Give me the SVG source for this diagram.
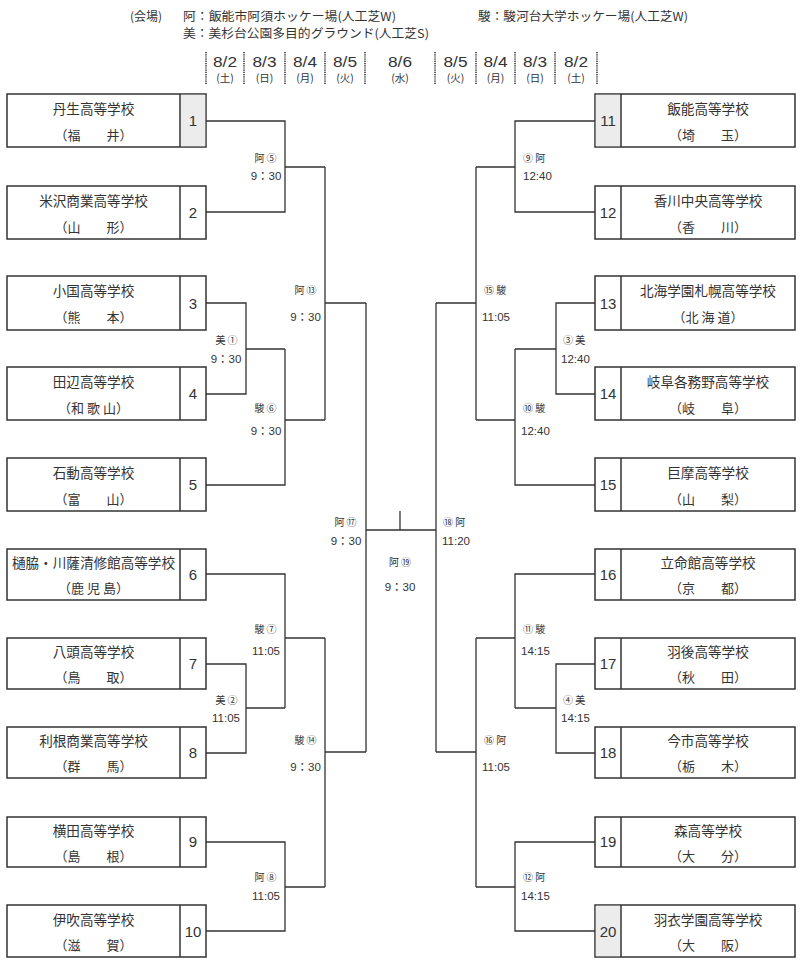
<svg xmlns="http://www.w3.org/2000/svg" width="800" height="968" viewBox="0 0 800 968">
<style>
.bg{fill:#fff}
.box{fill:#fff;stroke:#333;stroke-width:1.5}
.cell{fill:#ececec;stroke:none}
.sep{stroke:#333;stroke-width:1.5}
.ln{fill:none;stroke:#333;stroke-width:1.3}
.dot{stroke:#333;stroke-width:1.6;stroke-dasharray:1.2 1}
.nm{font-family:"Noto Sans CJK JP",sans-serif;font-size:13.6px;fill:#333;text-anchor:middle}
.pf{font-family:"Noto Sans CJK JP",sans-serif;font-size:13px;fill:#333;text-anchor:middle}
.no{font-family:"Liberation Sans",sans-serif;font-size:15px;fill:#333;text-anchor:middle}
.ml{font-family:"Noto Sans CJK JP",sans-serif;font-size:10px;fill:#333}
.tm{font-family:"Liberation Sans","Noto Sans CJK JP",sans-serif;font-size:11.5px;fill:#333}
.mid{text-anchor:middle}
.hd{font-family:"Noto Sans CJK JP",sans-serif;font-size:12px;fill:#333}
.dt{font-family:"Liberation Sans",sans-serif;font-size:14px;fill:#333;text-anchor:middle}
.dw{font-family:"Noto Sans CJK JP",sans-serif;font-size:10.5px;fill:#333;text-anchor:middle}
</style>
<rect class="bg" x="0" y="0" width="800" height="968"/>

<g id="header">
<text class="hd" x="130" y="21">(会場)</text>
<text class="hd" x="183" y="21" textLength="213" lengthAdjust="spacingAndGlyphs">阿：飯能市阿須ホッケー場(人工芝W)</text>
<text class="hd" x="478" y="21" textLength="210" lengthAdjust="spacingAndGlyphs">駿：駿河台大学ホッケー場(人工芝W)</text>
<text class="hd" x="183" y="38" textLength="246" lengthAdjust="spacingAndGlyphs">美：美杉台公園多目的グラウンド(人工芝S)</text>
</g>

<g id="dates">
<line class="dot" x1="206" y1="52" x2="206" y2="85"/>
<line class="dot" x1="244" y1="52" x2="244" y2="85"/>
<line class="dot" x1="285" y1="52" x2="285" y2="85"/>
<line class="dot" x1="325" y1="52" x2="325" y2="85"/>
<line class="dot" x1="365" y1="52" x2="365" y2="85"/>
<line class="dot" x1="435" y1="52" x2="435" y2="85"/>
<line class="dot" x1="476" y1="52" x2="476" y2="85"/>
<line class="dot" x1="515" y1="52" x2="515" y2="85"/>
<line class="dot" x1="555" y1="52" x2="555" y2="85"/>
<line class="dot" x1="597" y1="52" x2="597" y2="85"/>
<text class="dt" x="225" y="67" textLength="24" lengthAdjust="spacingAndGlyphs">8/2</text>
<text class="dt" x="264.5" y="67" textLength="24" lengthAdjust="spacingAndGlyphs">8/3</text>
<text class="dt" x="305" y="67" textLength="24" lengthAdjust="spacingAndGlyphs">8/4</text>
<text class="dt" x="345" y="67" textLength="24" lengthAdjust="spacingAndGlyphs">8/5</text>
<text class="dt" x="400" y="67" textLength="24" lengthAdjust="spacingAndGlyphs">8/6</text>
<text class="dt" x="455.5" y="67" textLength="24" lengthAdjust="spacingAndGlyphs">8/5</text>
<text class="dt" x="495.5" y="67" textLength="24" lengthAdjust="spacingAndGlyphs">8/4</text>
<text class="dt" x="535" y="67" textLength="24" lengthAdjust="spacingAndGlyphs">8/3</text>
<text class="dt" x="576" y="67" textLength="24" lengthAdjust="spacingAndGlyphs">8/2</text>
<text class="dw" x="225" y="82">(土)</text>
<text class="dw" x="264.5" y="82">(日)</text>
<text class="dw" x="305" y="82">(月)</text>
<text class="dw" x="345" y="82">(火)</text>
<text class="dw" x="400" y="82">(水)</text>
<text class="dw" x="455.5" y="82">(火)</text>
<text class="dw" x="495.5" y="82">(月)</text>
<text class="dw" x="535" y="82">(日)</text>
<text class="dw" x="576" y="82">(土)</text>
</g>

<g id="connectors">
<path class="ln" d="M206,121 H285 V212 H206 M285,167 H325"/>
<path class="ln" d="M206,303 H246 V394 H206 M246,349 H285"/>
<path class="ln" d="M206,485 H285 V349 M285,420 H325"/>
<path class="ln" d="M325,167 V420 M325,303 H366"/>
<path class="ln" d="M206,574 H285 V708 M285,638 H325"/>
<path class="ln" d="M206,664 H246 V753 H206 M246,708 H285"/>
<path class="ln" d="M206,842 H285 V931 H206 M285,887 H325"/>
<path class="ln" d="M325,638 V887 M325,752 H366"/>
<path class="ln" d="M366,303 V752 M366,530 H436 M400,511 V530"/>
<path class="ln" d="M595,121 H515 V212 H595 M515,167 H476"/>
<path class="ln" d="M595,303 H556 V394 H595 M556,349 H515"/>
<path class="ln" d="M595,485 H515 V349 M515,420 H476"/>
<path class="ln" d="M476,167 V420 M476,303 H436"/>
<path class="ln" d="M595,574 H515 V708 M515,638 H476"/>
<path class="ln" d="M595,664 H556 V753 H595 M556,708 H515"/>
<path class="ln" d="M595,842 H515 V931 H595 M515,887 H476"/>
<path class="ln" d="M476,638 V887 M476,752 H436"/>
<path class="ln" d="M436,303 V752"/>
</g>

<g id="match-labels">
<text class="ml mid" x="265.5" y="161.5">阿 ⑤</text><text class="tm mid" x="266" y="180">9：30</text>
<text class="ml mid" x="305.5" y="293.5">阿 ⑬</text><text class="tm mid" x="305.5" y="321">9：30</text>
<text class="ml mid" x="226.5" y="343.5">美 ①</text><text class="tm mid" x="226" y="363">9：30</text>
<text class="ml mid" x="265.5" y="411.5">駿 ⑥</text><text class="tm mid" x="266" y="435">9：30</text>
<text class="ml mid" x="345.5" y="525.5">阿 ⑰</text><text class="tm mid" x="346" y="545">9：30</text>
<text class="ml mid" x="265.5" y="632.5">駿 ⑦</text><text class="tm mid" x="266" y="655">11:05</text>
<text class="ml mid" x="226.5" y="703.5">美 ②</text><text class="tm mid" x="226" y="722">11:05</text>
<text class="ml mid" x="305.5" y="743.5">駿 ⑭</text><text class="tm mid" x="305.5" y="771">9：30</text>
<text class="ml mid" x="265.5" y="880.5">阿 ⑧</text><text class="tm mid" x="266" y="900">11:05</text>
<text class="ml mid" x="400" y="565.5">阿 ⑲</text><text class="tm mid" x="400" y="591">9：30</text>
<text class="ml" x="523" y="161.5">⑨ 阿</text><text class="tm" x="523" y="180">12:40</text>
<text class="ml" x="484" y="293.5">⑮ 駿</text><text class="tm" x="482" y="321">11:05</text>
<text class="ml" x="563" y="343.5">③ 美</text><text class="tm" x="561" y="363">12:40</text>
<text class="ml" x="523" y="411.5">⑩ 駿</text><text class="tm" x="521" y="435">12:40</text>
<text class="ml" x="443" y="525.5">⑱ 阿</text><text class="tm" x="442" y="545">11:20</text>
<text class="ml" x="523" y="632.5">⑪ 駿</text><text class="tm" x="521" y="655">14:15</text>
<text class="ml" x="563" y="703.5">④ 美</text><text class="tm" x="561" y="722">14:15</text>
<text class="ml" x="484" y="743.5">⑯ 阿</text><text class="tm" x="482" y="771">11:05</text>
<text class="ml" x="523" y="880.5">⑫ 阿</text><text class="tm" x="521" y="900">14:15</text>
</g>

<g id="team-1"><rect class="box" x="7" y="94" width="199" height="53"/><rect class="cell" x="180.8" y="94.8" width="24.4" height="51.4"/><line class="sep" x1="180" y1="94" x2="180" y2="147"/><text class="nm" x="93.5" y="113.5">丹生高等学校</text><text class="pf" x="93.5" y="140">（福　　井）</text><text class="no" x="193" y="126">1</text></g>
<g id="team-2"><rect class="box" x="7" y="186" width="199" height="53"/><line class="sep" x1="180" y1="186" x2="180" y2="239"/><text class="nm" x="93.5" y="205.5">米沢商業高等学校</text><text class="pf" x="93.5" y="232">（山　　形）</text><text class="no" x="193" y="218">2</text></g>
<g id="team-3"><rect class="box" x="7" y="276" width="199" height="54"/><line class="sep" x1="180" y1="276" x2="180" y2="330"/><text class="nm" x="93.5" y="295.5">小国高等学校</text><text class="pf" x="93.5" y="322">（熊　　本）</text><text class="no" x="193" y="308.5">3</text></g>
<g id="team-4"><rect class="box" x="7" y="367" width="199" height="53"/><line class="sep" x1="180" y1="367" x2="180" y2="420"/><text class="nm" x="93.5" y="386.5">田辺高等学校</text><text class="pf" x="93.5" y="413">（和 歌 山）</text><text class="no" x="193" y="399">4</text></g>
<g id="team-5"><rect class="box" x="7" y="458" width="199" height="53"/><line class="sep" x1="180" y1="458" x2="180" y2="511"/><text class="nm" x="93.5" y="477.5">石動高等学校</text><text class="pf" x="93.5" y="504">（富　　山）</text><text class="no" x="193" y="490">5</text></g>
<g id="team-6"><rect class="box" x="7" y="549" width="199" height="51"/><line class="sep" x1="180" y1="549" x2="180" y2="600"/><text class="nm" x="93.5" y="567.5">樋脇・川薩清修館高等学校</text><text class="pf" x="93.5" y="593">（鹿 児 島）</text><text class="no" x="193" y="580">6</text></g>
<g id="team-7"><rect class="box" x="7" y="638" width="199" height="51"/><line class="sep" x1="180" y1="638" x2="180" y2="689"/><text class="nm" x="93.5" y="656.5">八頭高等学校</text><text class="pf" x="93.5" y="682">（鳥　　取）</text><text class="no" x="193" y="669">7</text></g>
<g id="team-8"><rect class="box" x="7" y="727" width="199" height="51"/><line class="sep" x1="180" y1="727" x2="180" y2="778"/><text class="nm" x="93.5" y="745.5">利根商業高等学校</text><text class="pf" x="93.5" y="771">（群　　馬）</text><text class="no" x="193" y="758">8</text></g>
<g id="team-9"><rect class="box" x="7" y="817" width="199" height="50"/><line class="sep" x1="180" y1="817" x2="180" y2="867"/><text class="nm" x="93.5" y="835.5">横田高等学校</text><text class="pf" x="93.5" y="861">（島　　根）</text><text class="no" x="193" y="847">9</text></g>
<g id="team-10"><rect class="box" x="7" y="905" width="199" height="52"/><line class="sep" x1="180" y1="905" x2="180" y2="957"/><text class="nm" x="93.5" y="924.5">伊吹高等学校</text><text class="pf" x="93.5" y="950">（滋　　賀）</text><text class="no" x="193" y="936.5">10</text></g>

<g id="team-11"><rect class="box" x="595" y="94" width="200" height="53"/><rect class="cell" x="595.8" y="94.8" width="24.4" height="51.4"/><line class="sep" x1="621" y1="94" x2="621" y2="147"/><text class="nm" x="708" y="113.5">飯能高等学校</text><text class="pf" x="708" y="140">（埼　　玉）</text><text class="no" x="608" y="126">11</text></g>
<g id="team-12"><rect class="box" x="595" y="186" width="200" height="53"/><line class="sep" x1="621" y1="186" x2="621" y2="239"/><text class="nm" x="708" y="205.5">香川中央高等学校</text><text class="pf" x="708" y="232">（香　　川）</text><text class="no" x="608" y="218">12</text></g>
<g id="team-13"><rect class="box" x="595" y="276" width="200" height="54"/><line class="sep" x1="621" y1="276" x2="621" y2="330"/><text class="nm" x="708" y="295.5">北海学園札幌高等学校</text><text class="pf" x="708" y="322">（北 海 道）</text><text class="no" x="608" y="308.5">13</text></g>
<g id="team-14"><rect class="box" x="595" y="367" width="200" height="53"/><line class="sep" x1="621" y1="367" x2="621" y2="420"/><text class="nm" x="708" y="386.5">岐阜各務野高等学校</text><text class="pf" x="708" y="413">（岐　　阜）</text><text class="no" x="608" y="399">14</text></g>
<g id="team-15"><rect class="box" x="595" y="458" width="200" height="53"/><line class="sep" x1="621" y1="458" x2="621" y2="511"/><text class="nm" x="708" y="477.5">巨摩高等学校</text><text class="pf" x="708" y="504">（山　　梨）</text><text class="no" x="608" y="490">15</text></g>
<g id="team-16"><rect class="box" x="595" y="549" width="200" height="51"/><line class="sep" x1="621" y1="549" x2="621" y2="600"/><text class="nm" x="708" y="567.5">立命館高等学校</text><text class="pf" x="708" y="593">（京　　都）</text><text class="no" x="608" y="580">16</text></g>
<g id="team-17"><rect class="box" x="595" y="638" width="200" height="51"/><line class="sep" x1="621" y1="638" x2="621" y2="689"/><text class="nm" x="708" y="656.5">羽後高等学校</text><text class="pf" x="708" y="682">（秋　　田）</text><text class="no" x="608" y="669">17</text></g>
<g id="team-18"><rect class="box" x="595" y="727" width="200" height="51"/><line class="sep" x1="621" y1="727" x2="621" y2="778"/><text class="nm" x="708" y="745.5">今市高等学校</text><text class="pf" x="708" y="771">（栃　　木）</text><text class="no" x="608" y="758">18</text></g>
<g id="team-19"><rect class="box" x="595" y="817" width="200" height="50"/><line class="sep" x1="621" y1="817" x2="621" y2="867"/><text class="nm" x="708" y="835.5">森高等学校</text><text class="pf" x="708" y="861">（大　　分）</text><text class="no" x="608" y="847">19</text></g>
<g id="team-20"><rect class="box" x="595" y="905" width="200" height="52"/><rect class="cell" x="595.8" y="905.8" width="24.4" height="50.4"/><line class="sep" x1="621" y1="905" x2="621" y2="957"/><text class="nm" x="708" y="924.5">羽衣学園高等学校</text><text class="pf" x="708" y="950">（大　　阪）</text><text class="no" x="608" y="936.5">20</text></g>
</svg>
